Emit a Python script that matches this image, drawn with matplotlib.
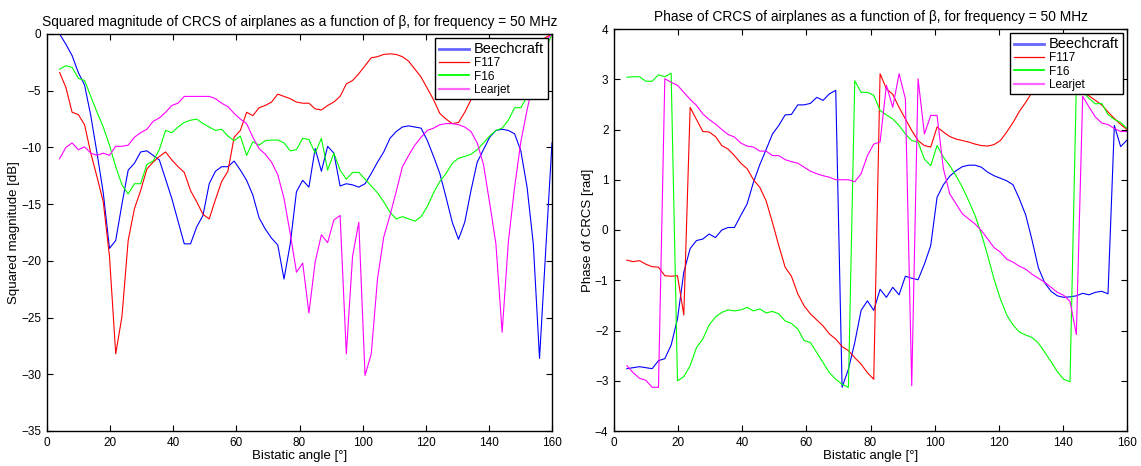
import numpy as np
import matplotlib
matplotlib.use('Agg')
import matplotlib.pyplot as plt

plt.rcParams['font.family'] = ['Liberation Sans', 'DejaVu Sans']

# Bistatic angle grid (80 samples from 4 to 160 deg)
beta = np.linspace(4, 160, 80)
names = ['Beechcraft', 'F117', 'F16', 'Learjet']
colors = ['#0000ff', '#ff0000', '#00ff00', '#ff00ff']

# Squared magnitude [dB]
mag_beech = [0, -0.9, -1.9, -3.4, -4.5, -7.2, -10.5, -14, -18.9, -18.2,
             -15, -12, -11.4, -10.4, -10.3, -10.7, -11.1, -12.8, -14.5, -16.5,
             -18.5, -18.5, -17, -16, -13.2, -12.1, -11.7, -11.7, -11.2, -12,
             -12.9, -14.2, -16.2, -17.2, -18.0, -18.6, -21.6, -18.5, -13.9, -12.9,
             -13.5, -10.1, -12.1, -9.9, -10.5, -13.4, -13.2, -13.3, -13.5, -13.2,
             -12.3, -11.3, -10.4, -9.2, -8.6, -8.2, -8.1, -8.2, -8.3, -9.4,
             -10.8, -12.3, -14.4, -16.6, -18.1, -16.6, -13.8, -11.3, -10.2, -9.1,
             -8.5, -8.4, -8.5, -8.8, -10.3, -13.5, -18.5, -28.6, -19, -9.6]
mag_f117 = [-3.4, -4.7, -6.9, -7.1, -8, -10.5, -12.6, -14.8, -19.6, -28.2,
            -24.9, -18.2, -15.4, -13.8, -11.9, -11.3, -10.8, -10.4, -11.1, -11.7,
            -12.2, -13.8, -14.8, -15.9, -16.3, -14.6, -13, -12.1, -9.1, -8.5,
            -6.9, -7.2, -6.5, -6.3, -6.0, -5.3, -5.5, -5.7, -6.0, -6.1,
            -6.1, -6.6, -6.7, -6.3, -6.0, -5.5, -4.4, -4.1, -3.5, -2.8,
            -2.1, -2.0, -1.8, -1.75, -1.8, -2.0, -2.4, -3.1, -3.8, -4.8,
            -5.8, -7.0, -7.5, -7.9, -7.8, -6.9, -5.8, -4.8, -4.0, -3.4,
            -2.9, -2.5, -2.1, -1.8, -1.5, -1.3, -1.0, -0.7, -0.3, 0]
mag_f16 = [-3.1, -2.8, -2.95, -3.9, -4.1, -5.5, -6.9, -8.2, -9.8, -11.7,
           -13.3, -14.1, -13.2, -13.2, -11.5, -11.2, -10.2, -8.5, -8.7, -8.2,
           -7.8, -7.6, -7.5, -7.9, -8.2, -8.5, -8.4, -9.0, -9.4, -9.0,
           -10.7, -9.5, -9.8, -9.4, -9.35, -9.35, -9.6, -10.3, -10.2, -9.2,
           -9.3, -10.5, -9.2, -12.0, -10.5, -12.0, -12.8, -12.2, -12.2, -12.8,
           -13.4, -14.0, -14.8, -15.7, -16.3, -16.1, -16.3, -16.5, -16.1, -15.2,
           -14.0, -13.0, -12.3, -11.4, -10.95, -10.8, -10.6, -10.2, -9.6, -9.0,
           -8.5, -8.3, -7.6, -6.5, -6.5, -5.5, -4.2, -2.8, -1.3, 0]
mag_lear = [-11.0, -10.0, -9.6, -10.2, -9.95, -10.5, -10.7, -10.5, -10.7, -9.9,
            -9.9, -9.8, -9.1, -8.7, -8.4, -7.7, -7.4, -6.9, -6.3, -6.1,
            -5.5, -5.5, -5.5, -5.5, -5.5, -5.7, -6.1, -6.4, -7.0, -7.5,
            -7.9, -9.1, -10.1, -10.6, -11.3, -12.4, -14.5, -17.6, -21.0, -20.2,
            -24.6, -20.1, -17.7, -18.4, -16.4, -16.0, -28.2, -19.6, -16.6, -30.1,
            -28.2, -21.6, -17.9, -16.0, -13.9, -11.7, -10.7, -9.8, -9.1, -8.5,
            -8.3, -8.0, -7.9, -7.9, -8.0, -8.2, -8.6, -9.6, -11.5, -14.9,
            -18.5, -26.3, -18.3, -13.5, -9.5, -6.7, -4.2, -2.0, -0.6, 0]

# Phase [rad]
ph_beech = [-2.76, -2.74, -2.72, -2.74, -2.76, -2.6, -2.56, -2.29, -1.77, -0.84,
            -0.37, -0.21, -0.18, -0.08, -0.15, 0.0, 0.05, 0.05, 0.29, 0.52,
            0.95, 1.3, 1.6, 1.91, 2.08, 2.29, 2.3, 2.49, 2.49, 2.52,
            2.64, 2.58, 2.71, 2.78, -3.13, -2.77, -2.24, -1.6, -1.41, -1.6,
            -1.18, -1.34, -1.14, -1.29, -0.92, -0.96, -0.99, -0.68, -0.31, 0.65,
            0.9, 1.07, 1.18, 1.26, 1.29, 1.29, 1.25, 1.15, 1.08, 1.03,
            0.98, 0.9, 0.62, 0.3, -0.2, -0.75, -1.05, -1.22, -1.31, -1.34,
            -1.33, -1.31, -1.26, -1.29, -1.24, -1.22, -1.27, 2.08, 1.66, 1.79]
ph_f117 = [-0.6, -0.63, -0.61, -0.68, -0.73, -0.74, -0.91, -0.92, -0.91, -1.69,
           2.44, 2.2, 1.96, 1.95, 1.86, 1.68, 1.61, 1.48, 1.33, 1.22,
           1.0, 0.85, 0.58, 0.15, -0.31, -0.74, -0.92, -1.27, -1.51, -1.67,
           -1.79, -1.91, -2.07, -2.17, -2.32, -2.4, -2.54, -2.67, -2.84, -2.97,
           3.11, 2.81, 2.7, 2.44, 2.21, 1.98, 1.78, 1.68, 1.65, 2.05,
           1.95, 1.86, 1.81, 1.78, 1.75, 1.71, 1.68, 1.67, 1.7, 1.78,
           1.95, 2.14, 2.36, 2.54, 2.74, 2.9, 3.0, 3.05, 3.05, 3.0,
           2.92, 2.82, 2.74, 2.67, 2.58, 2.49, 2.35, 2.22, 2.1, 2.0]
ph_f16 = [3.04, 3.05, 3.05, 2.96, 2.96, 3.09, 3.05, 3.12, -3.0, -2.92,
          -2.7, -2.34, -2.17, -1.89, -1.73, -1.64, -1.59, -1.61, -1.59, -1.54,
          -1.61, -1.57, -1.65, -1.62, -1.67, -1.81, -1.86, -1.97, -2.2, -2.24,
          -2.44, -2.64, -2.84, -2.97, -3.07, -3.13, 2.97, 2.74, 2.74, 2.68,
          2.38, 2.29, 2.21, 2.08, 1.91, 1.78, 1.75, 1.41, 1.28, 1.68,
          1.45, 1.28, 1.08, 0.85, 0.58, 0.29, -0.08, -0.51, -0.98, -1.37,
          -1.69, -1.89, -2.03, -2.09, -2.14, -2.25, -2.43, -2.62, -2.82, -2.97,
          -3.02, 2.9, 2.75, 2.62, 2.51, 2.52, 2.3, 2.2, 2.14, 2.02]
ph_lear = [-2.7, -2.84, -2.95, -2.99, -3.13, -3.13, 3.01, 2.94, 2.88, 2.74,
           2.6, 2.48, 2.31, 2.2, 2.11, 2.0, 1.9, 1.85, 1.73, 1.67,
           1.65, 1.57, 1.57, 1.48, 1.48, 1.4, 1.36, 1.33, 1.25, 1.17,
           1.12, 1.08, 1.05, 1.0, 1.0, 1.0, 0.96, 1.12, 1.48, 1.71,
           1.75, 2.88, 2.44, 3.11, 2.61, -3.1, 3.01, 1.91, 2.28, 2.28,
           1.22, 0.72, 0.52, 0.32, 0.22, 0.12, -0.01, -0.18, -0.35, -0.44,
           -0.58, -0.64, -0.72, -0.78, -0.88, -0.96, -1.04, -1.14, -1.24, -1.3,
           -1.42, -2.08, 2.66, 2.45, 2.25, 2.13, 2.1, 2.02, 1.96, 1.96]

W, H = 1141, 466
fig = plt.figure(figsize=(W / 100, H / 100), dpi=100)
ax1 = fig.add_axes([47 / W, 35 / H, 505 / W, 397 / H])
ax2 = fig.add_axes([614 / W, 35 / H, 513 / W, 402 / H])


def style_axes(ax):
    ax.tick_params(direction='in', top=True, right=True, labelsize=8.5,
                   length=4, width=0.8, pad=4)
    for s in ax.spines.values():
        s.set_linewidth(1.0)


def make_legend(ax):
    leg = ax.legend(loc='upper right', fontsize=8.5, fancybox=False,
                    framealpha=1, edgecolor='black', borderaxespad=0.35,
                    handlelength=2.6, handletextpad=0.4, labelspacing=0.12,
                    borderpad=0.3)
    leg.get_frame().set_linewidth(1.0)
    leg.get_texts()[0].set_fontsize(10.5)
    lws = [2.0, 0.9, 1.3, 1.6]
    for ln, lw in zip(leg.get_lines(), lws):
        ln.set_linewidth(lw)
        ln.set_alpha(0.6 if lw > 1.5 else 1.0)


for vals, name, c in zip([mag_beech, mag_f117, mag_f16, mag_lear], names, colors):
    ax1.plot(beta, vals, color=c, lw=0.8, label=name)
ax1.set_xlim(0, 160)
ax1.set_ylim(-35, 0)
ax1.set_xticks(np.arange(0, 161, 20))
ax1.set_yticks(np.arange(-35, 1, 5))
ax1.set_title('Squared magnitude of CRCS of airplanes as a function of β, for frequency = 50 MHz',
              fontsize=9.9, pad=6)
ax1.set_xlabel('Bistatic angle [°]', fontsize=9.5, labelpad=1)
ax1.set_ylabel('Squared magnitude [dB]', fontsize=9.5, labelpad=1)
style_axes(ax1)
make_legend(ax1)

for vals, name, c in zip([ph_beech, ph_f117, ph_f16, ph_lear], names, colors):
    ax2.plot(beta, vals, color=c, lw=0.8, label=name)
ax2.set_xlim(0, 160)
ax2.set_ylim(-4, 4)
ax2.set_xticks(np.arange(0, 161, 20))
ax2.set_yticks(np.arange(-4, 5, 1))
ax2.set_title('Phase of CRCS of airplanes as a function of β, for frequency = 50 MHz',
              fontsize=9.9, pad=6)
ax2.set_xlabel('Bistatic angle [°]', fontsize=9.5, labelpad=1)
ax2.set_ylabel('Phase of CRCS [rad]', fontsize=9.5, labelpad=1)
style_axes(ax2)
make_legend(ax2)

fig.savefig('out.png', dpi=100)
